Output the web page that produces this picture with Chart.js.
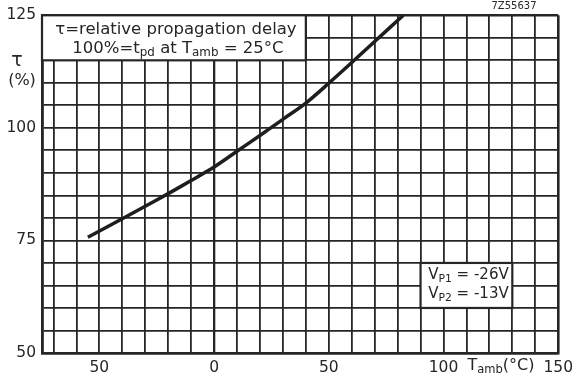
<!DOCTYPE html>
<html>
<head>
<meta charset="utf-8">
<script src="https://cdn.jsdelivr.net/npm/chart.js@4/dist/chart.umd.min.js"></script>
<style>
  html, body { margin: 0; padding: 0; background: #fff; }
  #wrap { width: 579px; height: 382px; position: relative; }
</style>
</head>
<body>
<div id="wrap"><canvas id="myChart" width="579" height="382"></canvas></div>
<script>
// values
const temps = [-55, -40, -30, -20, -10, 0, 10, 20, 30, 40, 50, 60, 70, 82.5];
const delay = [75.7, 79.8, 82.6, 85.4, 88.3, 91.3, 94.8, 98.3, 101.9, 105.5, 109.9, 114.5, 119.2, 125];
const xTickLabels = [-50, 0, 50, 100, 150];
const yTickLabels = [50, 75, 100, 125];

const ink = "#262626";
const font = "'DejaVu Sans', sans-serif";

// boxes in data units
const noteBox = { x0: -75, x1: 40, y0: 115, y1: 125 };
const supplyBox = { x0: 90, x1: 130, y0: 60, y1: 70 };

function drawRich(c, parts, x, y, size) {
  let w = 0;
  parts.forEach(function (p) {
    c.font = (p[1] ? size * 0.72 : size) + "px " + font;
    w += c.measureText(p[0]).width;
  });
  let cx = x - w / 2;
  parts.forEach(function (p) {
    c.font = (p[1] ? size * 0.72 : size) + "px " + font;
    c.fillText(p[0], cx, p[1] ? y + size * 0.28 : y);
    cx += c.measureText(p[0]).width;
  });
}

function boxRect(chart, b) {
  const xs = chart.scales.x, ys = chart.scales.y;
  const l = xs.getPixelForValue(b.x0), r = xs.getPixelForValue(b.x1);
  const t = ys.getPixelForValue(b.y1), btm = ys.getPixelForValue(b.y0);
  return { l: l, r: r, t: t, b: btm };
}

const notes = {
  id: "notes",
  beforeDatasetsDraw(chart) {
    const c = chart.ctx;
    c.save();
    c.textBaseline = "middle";
    c.fillStyle = ink;
    c.strokeStyle = ink;

    let r = boxRect(chart, noteBox);
    c.fillStyle = "#fff";
    c.fillRect(r.l, r.t, r.r - r.l, r.b - r.t);
    c.lineWidth = 2.2;
    c.strokeRect(r.l, r.t, r.r - r.l, r.b - r.t);
    c.fillStyle = ink;
    const mx = (r.l + r.r) / 2;
    drawRich(c, [["\u03C4=relative propagation delay", false]], mx + 2, r.t + 14, 16.5);
    drawRich(c, [["100%=t", false], ["pd", true], [" at T", false], ["amb", true], [" = 25\u00B0C", false]], mx + 4, r.t + 33, 16.5);

    r = boxRect(chart, supplyBox);
    c.fillStyle = "#fff";
    c.fillRect(r.l, r.t, r.r - r.l, r.b - r.t);
    c.lineWidth = 2.2;
    c.strokeRect(r.l, r.t, r.r - r.l, r.b - r.t);
    c.fillStyle = ink;
    const sx = (r.l + r.r) / 2;
    drawRich(c, [["V", false], ["P1", true], [" = -26V", false]], sx + 2, r.t + 12, 15);
    drawRich(c, [["V", false], ["P2", true], [" = -13V", false]], sx + 2, r.t + 31, 15);
    c.restore();
  },
  afterDraw(chart) {
    const c = chart.ctx;
    c.save();
    c.fillStyle = ink;
    c.textBaseline = "middle";
    drawRich(c, [["\u03C4", false]], 17, 61, 19);
    drawRich(c, [["(%)", false]], 22, 81, 16);
    drawRich(c, [["T", false], ["amb", true], ["(\u00B0C)", false]], 501, 366, 16);
    drawRich(c, [["7Z55637", false]], 514, 6, 10);
    c.restore();
  },
};

const xGrid = [-75];
for (let v = -70; v <= 140; v += 10) xGrid.push(v);
xGrid.push(150);
const yGrid = [];
for (let v = 50; v <= 125; v += 5) yGrid.push(v);

function gridWidth(edgeA, edgeB) {
  return function (ctx) {
    const v = ctx.tick ? ctx.tick.value : null;
    if (v === edgeA || v === edgeB) return 2.6;
    if (v === 0) return 2.3;
    return 1.8;
  };
}

const ctx = document.getElementById("myChart");
const chart = new Chart(ctx, {
  type: "line",
  data: {
    datasets: [
      {
        data: temps.map(function (t, i) { return { x: t, y: delay[i] }; }),
        borderColor: "#1e1e1e",
        borderWidth: 3.5,
        pointRadius: 0,
        tension: 0.3,
        fill: false,
      },
    ],
  },
  options: {
    responsive: false,
    animation: false,
    devicePixelRatio: 1,
    layout: { padding: { top: 14, right: 19, left: 0, bottom: 0 } },
    plugins: { legend: { display: false }, tooltip: { enabled: false } },
    scales: {
      x: {
        type: "linear",
        min: -75,
        max: 150,
        afterBuildTicks: function (scale) {
          scale.ticks = xGrid.map(function (v) { return { value: v }; });
        },
        afterFit: function (scale) { scale.height = 29; },
        grid: { color: ink, lineWidth: gridWidth(-75, 150), drawTicks: false },
        border: { color: ink, width: 2.6 },
        ticks: {
          autoSkip: false,
          maxRotation: 0,
          padding: 6,
          color: ink,
          font: { family: font, size: 15.5 },
          callback: function (v) { return xTickLabels.includes(v) ? String(Math.abs(v)) : ""; },
        },
      },
      y: {
        type: "linear",
        min: 50,
        max: 125,
        afterBuildTicks: function (scale) {
          scale.ticks = yGrid.map(function (v) { return { value: v }; });
        },
        afterFit: function (scale) { scale.width = 42; },
        grid: { color: ink, lineWidth: gridWidth(50, 125), drawTicks: false },
        border: { color: ink, width: 2.6 },
        ticks: {
          autoSkip: false,
          padding: 6,
          color: ink,
          font: { family: font, size: 15.5 },
          callback: function (v) { return yTickLabels.includes(v) ? String(v) : ""; },
        },
      },
    },
  },
  plugins: [notes],
});
</script>
</body>
</html>
